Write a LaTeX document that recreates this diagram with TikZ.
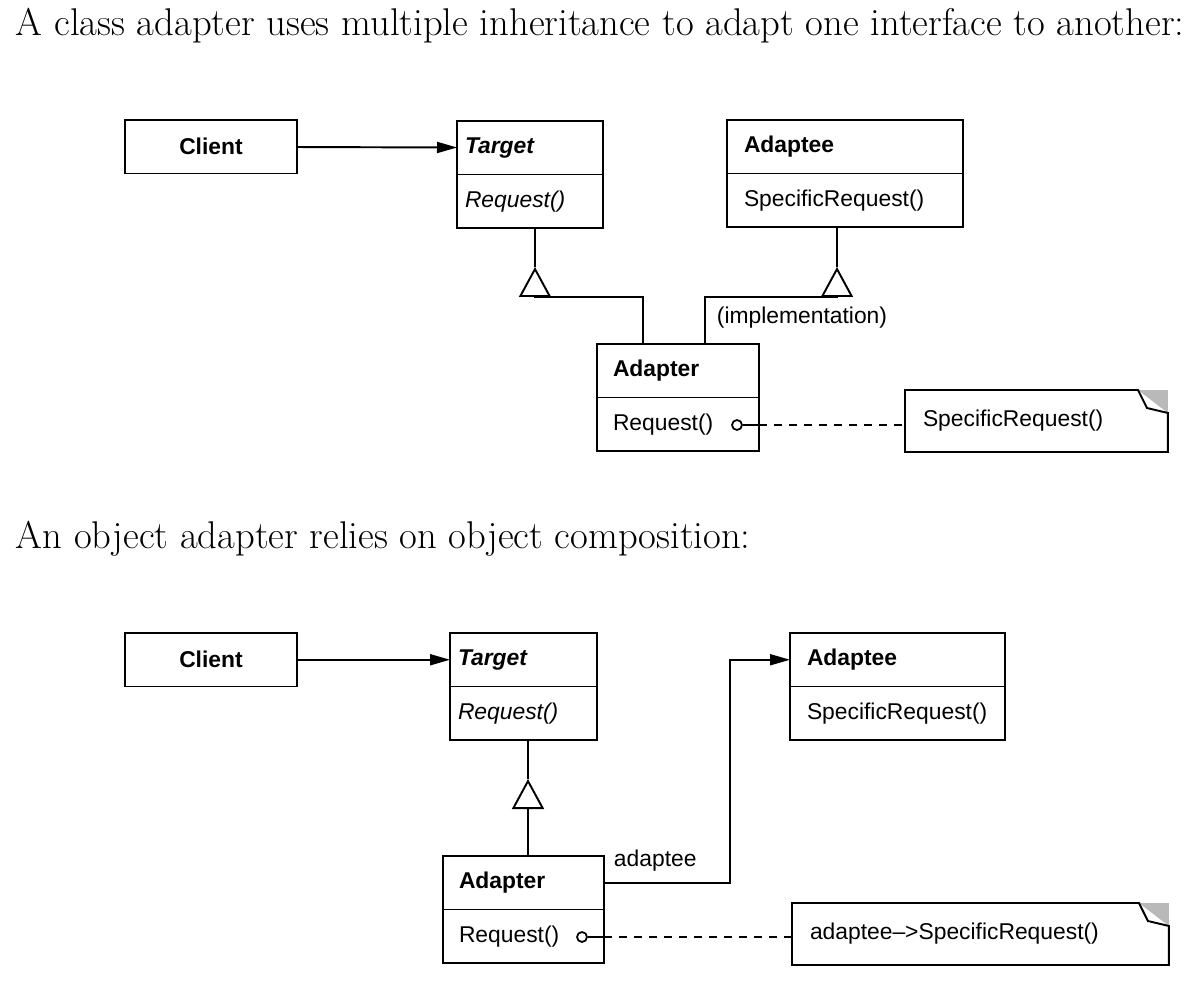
\documentclass[tikz,border=0pt]{standalone}
\usepackage{fontspec}
\usepackage{tikz}
\usetikzlibrary{arrows.meta,positioning}
\newfontfamily\umlfont{Liberation Sans}
\newcommand{\umltext}{\umlfont\fontsize{13pt}{15pt}\selectfont}
\newcommand{\headtext}{\rmfamily\fontsize{22pt}{26pt}\selectfont}

\begin{document}
\begin{tikzpicture}[x=0.02cm, y=-0.02cm, line width=1.1pt,
  every node/.style={font=\umltext},
  cell/.style={draw, anchor=north west, outer sep=0pt, inner ysep=0pt, align=left, minimum height=1.07cm},
  note/.style={anchor=north west, outer sep=0pt, inner ysep=0pt, inner xsep=0.36cm, align=left, minimum height=1.24cm},
  assoc/.style={-{Triangle[length=0.4cm, width=0.22cm]}},
  gen/.style={-{Triangle[open, length=0.6cm, width=0.64cm]}},
  impl/.style={dash pattern=on 0.16cm off 0.14cm},
  dot/.style={circle, draw, inner sep=0pt, minimum size=0.2cm, line width=1pt}]
  \useasboundingbox (0,0) rectangle (1198,984);

  % class adapter
  \node[anchor=base west, inner sep=0pt, font=\headtext] (head1) at (15,35) {A class adapter uses multiple inheritance to adapt one interface to another:};

  \node[cell, align=center, inner xsep=0pt, text width=3.44cm] (cli1) at (125,120) {\textbf{Client}};
  \node[cell, inner xsep=0.16cm, text width=2.6cm] (tgt1) at (457,121) {\textbf{\textit{Target}}};
  \node[cell, inner xsep=0.16cm, text width=2.6cm] (tgt1op) at (tgt1.south west) {\textit{Request()}};
  \node[cell, inner xsep=0.34cm, text width=4.04cm] (adt1) at (727,120) {\textbf{Adaptee}};
  \node[cell, inner xsep=0.34cm, text width=4.04cm] (adt1op) at (adt1.south west) {SpecificRequest()};
  \node[cell, inner xsep=0.32cm, text width=2.6cm] (adp1) at (597,344) {\textbf{Adapter}};
  \node[cell, inner xsep=0.32cm, text width=2.6cm] (adp1op) at (adp1.south west) {Request()};
  \node[note, text width=4.54cm] (note1) at (905,390) {SpecificRequest()};
  \node[anchor=west, inner sep=0pt] (lbl1) at (716,318) {(implementation)};
  \node[dot] (dot1) at (737,425) {};

  \coordinate (apx1) at (535,267);
  \coordinate (apx2) at (837,267);

  \draw[assoc] (cli1) -- (tgt1);
  \draw (apx1 |- tgt1op.south) -- (apx1);
  \draw (apx2 |- adt1op.south) -- (apx2);
  \draw[gen] ([xshift=-0.7cm]adp1.north) |- ([yshift=-0.6cm]apx1) -- (apx1);
  \draw[gen] ([xshift=0.54cm]adp1.north) |- ([yshift=-0.6cm]apx2) -- (apx2);
  \draw (dot1) -- (adp1op.east |- dot1);
  \draw[impl] (adp1op.east |- dot1) -- (note1.west |- dot1);

  \fill[gray!55] ([xshift=-0.6cm]note1.north east) -- (note1.north east) -- ([yshift=-0.46cm]note1.north east) -- cycle;
  \draw (note1.north west) -- ([xshift=-0.6cm]note1.north east) -- ([xshift=-0.42cm, yshift=-0.36cm]note1.north east)
    -- ([yshift=-0.46cm]note1.north east) -- (note1.south east) -- (note1.south west) -- cycle;

  % object adapter
  \node[anchor=base west, inner sep=0pt, font=\headtext] (head2) at (15,548) {An object adapter relies on object composition:};

  \node[cell, align=center, inner xsep=0pt, text width=3.44cm] (cli2) at (125,633) {\textbf{Client}};
  \node[cell, inner xsep=0.16cm, text width=2.62cm] (tgt2) at (450,633) {\textbf{\textit{Target}}};
  \node[cell, inner xsep=0.16cm, text width=2.62cm] (tgt2op) at (tgt2.south west) {\textit{Request()}};
  \node[cell, inner xsep=0.34cm, text width=3.62cm] (adt2) at (790,633) {\textbf{Adaptee}};
  \node[cell, inner xsep=0.34cm, text width=3.62cm] (adt2op) at (adt2.south west) {SpecificRequest()};
  \node[cell, inner xsep=0.32cm, text width=2.58cm] (adp2) at (443,856) {\textbf{Adapter}};
  \node[cell, inner xsep=0.32cm, text width=2.58cm] (adp2op) at (adp2.south west) {Request()};
  \node[note, text width=6.82cm] (note2) at (792,903) {adaptee\textendash{}>SpecificRequest()};
  \node[anchor=west, inner sep=0pt] (lbl2) at (613,861) {adaptee};
  \node[dot] (dot2) at (582,937) {};

  \coordinate (apx3) at (528,779);

  \draw[assoc] (cli2) -- (tgt2);
  \draw (apx3 |- tgt2op.south) -- (apx3);
  \draw[gen] (adp2.north -| apx3) -- (apx3);
  \draw[assoc] (adp2.east) -| ([xshift=-1.2cm]adt2.west) -- (adt2.west);
  \draw (dot2) -- (adp2op.east |- dot2);
  \draw[impl] (adp2op.east |- dot2) -- (note2.west |- dot2);

  \fill[gray!55] ([xshift=-0.6cm]note2.north east) -- (note2.north east) -- ([yshift=-0.46cm]note2.north east) -- cycle;
  \draw (note2.north west) -- ([xshift=-0.6cm]note2.north east) -- ([xshift=-0.42cm, yshift=-0.36cm]note2.north east)
    -- ([yshift=-0.46cm]note2.north east) -- (note2.south east) -- (note2.south west) -- cycle;
\end{tikzpicture}
\end{document}
